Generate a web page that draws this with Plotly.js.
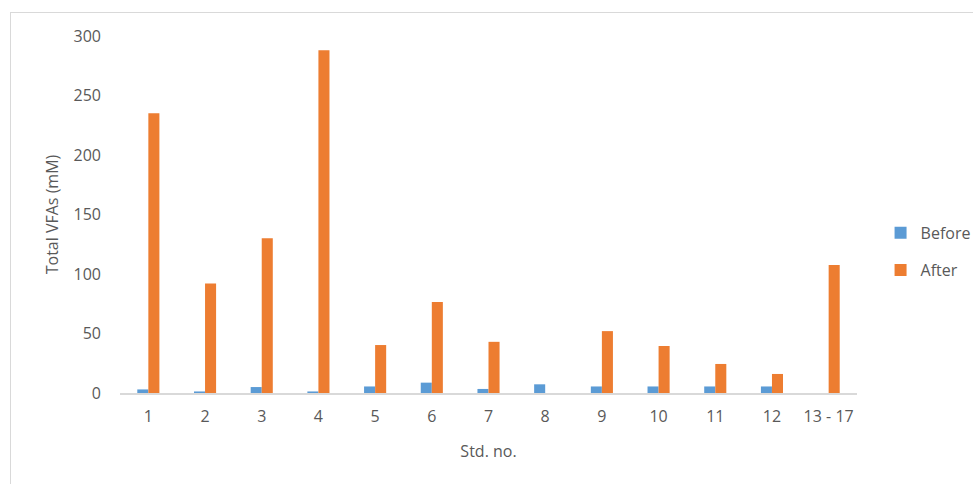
<!DOCTYPE html>
<html>
<head>
<meta charset="utf-8">
<script src="https://cdn.plot.ly/plotly-3.0.1.min.js"></script>
<style>
html,body{margin:0;padding:0;background:#fff;}
#frame{position:absolute;left:10px;top:12px;width:980px;height:490px;border:1px solid #d9d9d9;box-sizing:border-box;}
#chart{position:absolute;left:0;top:0;width:973px;height:484px;}
</style>
</head>
<body>
<div id="frame"></div>
<div id="chart"></div>
<script>
const categories = ["1","2","3","4","5","6","7","8","9","10","11","12","13 - 17"];
const beforeValues = [3, 1.3, 5, 1.3, 5.5, 8.7, 3.4, 7.3, 5.5, 5.5, 5.5, 5.5, 0];
const afterValues = [235, 92, 130, 288, 40.3, 76.5, 43, 0, 52, 39.5, 24.4, 16, 107.6];
const yTicks = [0, 50, 100, 150, 200, 250, 300];

const font = {family: "Open Sans, Noto Sans, sans-serif", size: 16, color: "#595959"};

const traces = [
  {type: "bar", name: "Before", x: categories, y: beforeValues, marker: {color: "#5b9bd5"}, legend: "legend"},
  {type: "bar", name: "After", x: categories, y: afterValues, marker: {color: "#ed7d31"}, legend: "legend2"}
];

const legendCommon = {font: font, bgcolor: "rgba(0,0,0,0)", xref: "container", yref: "container", xanchor: "left", yanchor: "middle", itemwidth: 30, tracegroupgap: 0};

const layout = {
  width: 973, height: 484,
  margin: {l: 120, r: 116, t: 36, b: 91, autoexpand: false},
  paper_bgcolor: "rgba(0,0,0,0)", plot_bgcolor: "rgba(0,0,0,0)",
  font: font,
  barmode: "group", bargap: 0.61, bargroupgap: 0,
  xaxis: {
    type: "category", showgrid: false, zeroline: false,
    showline: true, linecolor: "#d9d9d9", linewidth: 2,
    ticks: "", tickfont: font, ticklabelstandoff: 8,
    title: {text: "Std. no.", font: font, standoff: 20}
  },
  yaxis: {
    range: [0, 300], tickvals: yTicks, ticktext: yTicks.map(String),
    showgrid: false, zeroline: false, showline: false, ticks: "",
    tickfont: font, ticklabelstandoff: 18,
    title: {text: "Total VFAs (mM)", font: font, standoff: 10}
  },
  showlegend: true,
  legend: Object.assign({x: 0.905, y: 0.519}, legendCommon),
  legend2: Object.assign({x: 0.905, y: 0.442}, legendCommon)
};

Plotly.newPlot("chart", traces, layout, {displayModeBar: false, staticPlot: true});
</script>
</body>
</html>
